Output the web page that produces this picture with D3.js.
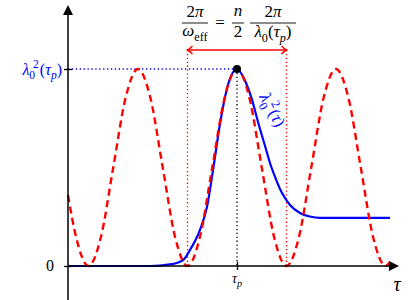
<!DOCTYPE html>
<html><head><meta charset="utf-8">
<script src="https://cdn.jsdelivr.net/npm/d3@7"></script>
<style>body{margin:0;background:#fff}svg{display:block}</style>
</head><body><svg id="c" width="416" height="300"></svg>
<script>
// τ measured relative to τp, in units of the oscillation period
const redT = [-1.707,-1.625,-1.5,-1.375,-1.25,-1.125,-1,-0.875,-0.75,-0.625,-0.5,-0.375,-0.25,-0.125,0,0.125,0.25,0.375,0.5,0.625,0.75,0.875,1,1.125,1.25,1.375,1.5,1.545];
const redV = [0.36,0.146,0,0.146,0.5,0.854,1,0.854,0.5,0.146,0,0.146,0.5,0.854,1,0.854,0.5,0.146,0,0.146,0.5,0.854,1,0.854,0.5,0.146,0,0.02];
const blueT = [-1.707,-0.879,-0.677,-0.545,-0.475,-0.374,-0.303,-0.242,-0.172,-0.091,0,0.081,0.152,0.212,0.283,0.333,0.384,0.434,0.485,0.535,0.636,0.737,0.838,1.545];
const blueV = [0,0,0.008,0.03,0.081,0.183,0.3,0.487,0.72,0.92,1,0.94,0.843,0.731,0.609,0.523,0.452,0.391,0.345,0.31,0.269,0.251,0.244,0.244];
const tauP = 0, peakV = 1, halfWin = 0.5;
const yTicks = [0, 1];

const FONT = "'Liberation Serif','DejaVu Serif','Times New Roman',serif";
const svg = d3.select("#c");
const x = d3.scaleLinear().domain([-1.707, 1.626]).range([68, 398]);
const y = d3.scaleLinear().domain([0, 1]).range([266, 69]);
const RED = "#ff0000", BLUE = "#0000ff";

// guide lines
svg.append("line").attr("x1", x.range()[0]).attr("x2", x(tauP)).attr("y1", y(peakV)).attr("y2", y(peakV))
  .attr("stroke", BLUE).attr("stroke-width", 1.3).attr("stroke-dasharray", "1.3,2.6");
svg.append("line").attr("x1", x(tauP)).attr("x2", x(tauP)).attr("y1", y(peakV)).attr("y2", y(0))
  .attr("stroke", "#000").attr("stroke-width", 1.3).attr("stroke-dasharray", "1.3,2.6");
[-halfWin, halfWin].forEach(t => {
  svg.append("line").attr("x1", x(t)).attr("x2", x(t)).attr("y1", 50).attr("y2", y(0))
    .attr("stroke", RED).attr("stroke-width", 1.3).attr("stroke-dasharray", "1.3,2.6");
});

// curves
const line = d3.line().x(d => x(d[0])).y(d => y(d[1])).curve(d3.curveMonotoneX);
svg.append("path").datum(blueT.map((t, i) => [t, blueV[i]])).attr("d", line)
  .attr("fill", "none").attr("stroke", BLUE).attr("stroke-width", 2.2);
svg.append("path").datum(redT.map((t, i) => [t, redV[i]])).attr("d", line)
  .attr("fill", "none").attr("stroke", RED).attr("stroke-width", 2.4).attr("stroke-dasharray", "7,4.5");

// axes
const ax = svg.append("g");
ax.append("line").attr("x1", x.range()[0]).attr("x2", 390).attr("y1", y(0)).attr("y2", y(0)).attr("stroke", "#000").attr("stroke-width", 1.5);
ax.append("line").attr("x1", x.range()[0]).attr("x2", x.range()[0]).attr("y1", 300).attr("y2", 14).attr("stroke", "#000").attr("stroke-width", 1.5);
ax.append("path").attr("d", `M${x.range()[1]+1},${y(0)} L${x.range()[1]-9},${y(0)-5} L${x.range()[1]-9},${y(0)+5}Z`).attr("fill", "#000");
ax.append("path").attr("d", `M${x.range()[0]},5 L${x.range()[0]-5},15 L${x.range()[0]+5},15Z`).attr("fill", "#000");
[d3.axisLeft(y), d3.axisRight(y)].forEach(a => {
  const g = svg.append("g").attr("transform", `translate(${x.range()[0]},0)`)
    .call(a.tickValues(yTicks).tickSize(4).tickFormat(""));
  g.select(".domain").remove();
  g.selectAll("line").attr("stroke-width", 1.3);
});
[d3.axisTop(x), d3.axisBottom(x)].forEach(a => {
  const g = svg.append("g").attr("transform", `translate(0,${y(0)})`)
    .call(a.tickValues([tauP]).tickSize(4).tickFormat(""));
  g.select(".domain").remove();
  g.selectAll("line").attr("stroke-width", 1.3);
});

// peak dot
svg.append("circle").attr("cx", x(tauP)).attr("cy", y(peakV)).attr("r", 4).attr("fill", "#000");

// rich text helper: segs [text, style, dx] style: i italic, b sub, p sup
function rich(parent, px, py, segs, size, color, anchor) {
  const t = parent.append("text").attr("x", px).attr("y", py).attr("font-size", size)
    .attr("font-family", FONT).attr("fill", color).attr("text-anchor", anchor || "middle");
  let cur = 0;
  segs.forEach(([s, st, dx]) => {
    const sp = t.append("tspan").text(s).attr("font-family", FONT);
    let target = 0, fs = size;
    if (st && st.includes("b")) { target = size * 0.28; fs = size * 0.72; }
    if (st && st.includes("p")) { target = -size * 0.42; fs = size * 0.72; }
    sp.attr("dy", target - cur); cur = target;
    sp.attr("font-size", fs);
    if (dx) sp.attr("dx", dx);
    if (st && st.includes("i")) sp.attr("font-style", "italic");
  });
  return t;
}

// labels
rich(svg, 50, 271, [["0", ""]], 16, "#000");
rich(svg, 237, 283, [["τ", "i"], ["p", "ib"]], 14, "#000");
rich(svg, 397, 291, [["τ", "i"]], 20, "#000");
rich(svg, 62, 75, [["λ", "i"], ["0", "b"], ["2", "p", -2], ["(", "", 1], ["τ", "i"], ["p", "ib"], [")", ""]], 16, BLUE, "end");
const rl = svg.append("g").attr("transform", "translate(272,110) rotate(61)");
rich(rl, 0, 5, [["λ", "i"], ["0", "b"], ["2", "p", -2], ["(", "", 1], ["τ", "i"], [")", ""]], 17, BLUE);

// formula
const fg = svg.append("g");
const bar = (x1, x2) => fg.append("line").attr("x1", x1).attr("x2", x2).attr("y1", 23).attr("y2", 23).attr("stroke", "#000").attr("stroke-width", 0.9);
rich(fg, 195, 17, [["2", ""], ["π", "i"]], 17, "#000");
bar(182, 208);
rich(fg, 195, 36, [["ω", "i"], ["eff", "b"]], 17, "#000");
rich(fg, 220, 28, [["=", ""]], 17, "#000");
rich(fg, 238, 16, [["n", "i"]], 17, "#000");
bar(232, 244);
rich(fg, 238, 37, [["2", ""]], 17, "#000");
rich(fg, 273, 17, [["2", ""], ["π", "i"]], 17, "#000");
bar(250, 296);
rich(fg, 273, 37, [["λ", "i"], ["0", "b"], ["(", ""], ["τ", "i"], ["p", "ib"], [")", ""]], 17, "#000");

// double arrow
const A = svg.append("g").attr("stroke", RED).attr("fill", "none").attr("stroke-width", 1.4);
A.append("line").attr("x1", x(-halfWin)).attr("x2", x(halfWin)).attr("y1", 50).attr("y2", 50);
A.append("path").attr("d", `M${x(-halfWin)+5},46 Q${x(-halfWin)+2},49 ${x(-halfWin)},50 Q${x(-halfWin)+2},51 ${x(-halfWin)+5},54`);
A.append("path").attr("d", `M${x(halfWin)-5},46 Q${x(halfWin)-2},49 ${x(halfWin)},50 Q${x(halfWin)-2},51 ${x(halfWin)-5},54`);
</script></body></html>
